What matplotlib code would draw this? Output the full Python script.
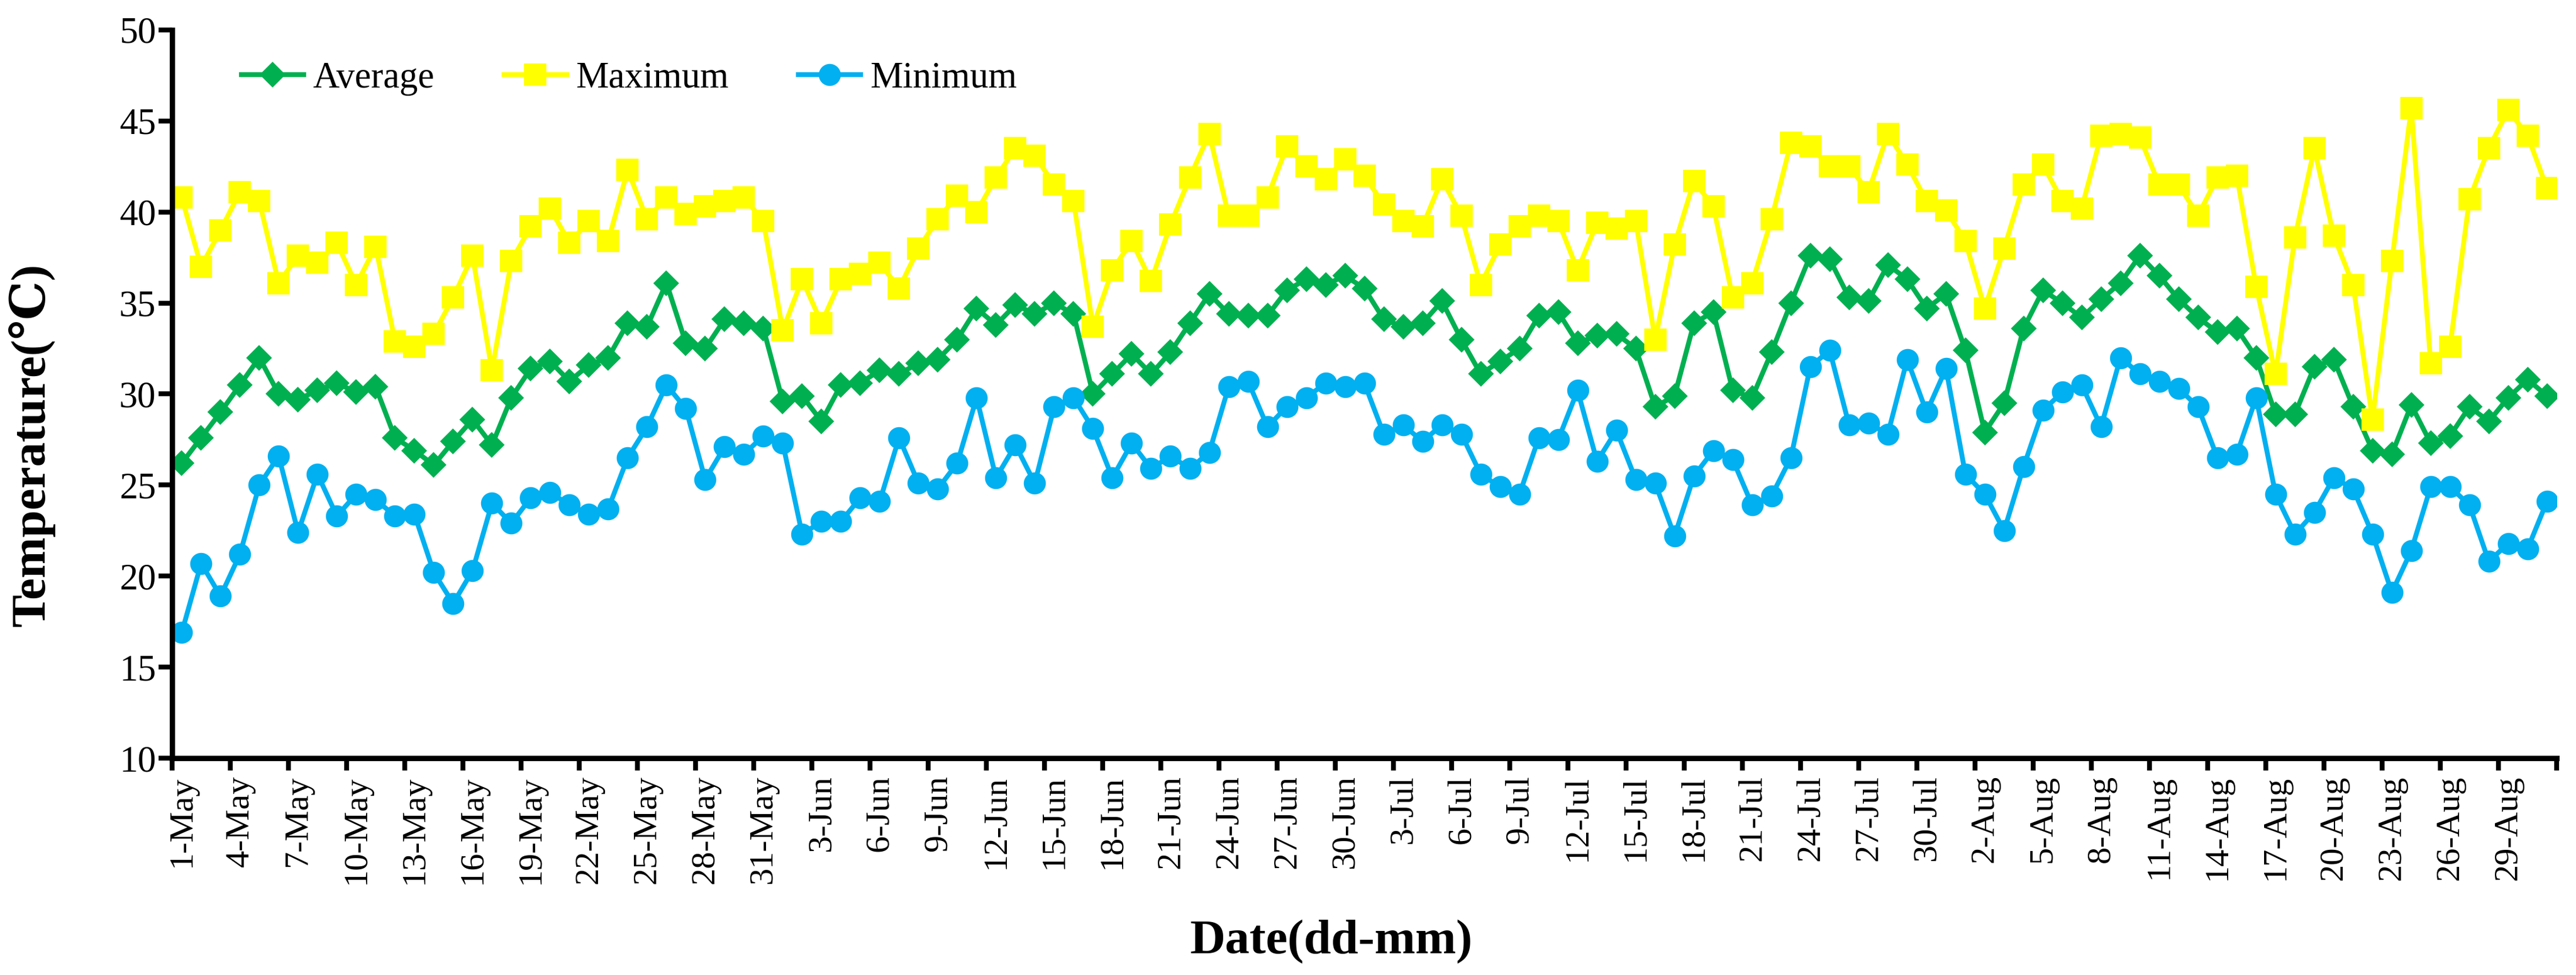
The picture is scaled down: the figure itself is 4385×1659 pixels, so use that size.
import pandas as pd
import matplotlib
matplotlib.use("Agg")
import matplotlib.pyplot as plt
from matplotlib.ticker import FixedLocator

plt.rcParams["font.family"] = ["Liberation Serif", "DejaVu Serif"]

# daily dates 1-May .. 31-Aug
dates = pd.date_range("2021-05-01", "2021-08-31", freq="D")
date_labels = [f"{d.day}-{d.strftime('%b')}" for d in dates]

average = [
    26.2, 27.6, 29.0, 30.5, 32.0, 30.0, 29.7, 30.2, 30.6, 30.1, 30.4, 27.6, 26.9, 26.1, 27.4, 28.6,
    27.2, 29.8, 31.4, 31.8, 30.7, 31.6, 32.0, 33.9, 33.7, 36.1, 32.8, 32.5, 34.1, 33.9, 33.6, 29.6,
    29.9, 28.5, 30.5, 30.6, 31.3,
    31.1, 31.7, 31.9, 33.0, 34.7, 33.8, 34.9, 34.4, 35.0, 34.4, 30.0, 31.1, 32.2, 31.1, 32.3, 33.9,
    35.5, 34.4, 34.3, 34.3, 35.7,
    36.3, 36.0, 36.5, 35.8, 34.1, 33.7, 33.9, 35.1, 33.0, 31.1, 31.8, 32.5, 34.3, 34.5, 32.8, 33.2,
    33.3, 32.5, 29.3, 29.9, 33.9,
    34.5, 30.2, 29.8, 32.3, 35.0, 37.6, 37.4, 35.3, 35.1, 37.1, 36.3, 34.7, 35.5, 32.4, 27.9, 29.5,
    33.6, 35.7, 35.0, 34.2, 35.2,
    36.1, 37.6, 36.5, 35.2, 34.2, 33.4, 33.6, 32.0, 28.9, 28.9, 31.5, 31.9, 29.3, 26.9, 26.7, 29.4,
    27.3, 27.7, 29.3, 28.5, 29.8, 30.8, 29.9,
]

maximum = [
    40.8, 37.0, 39.0, 41.1, 40.6, 36.1, 37.6, 37.2, 38.3, 36.0, 38.1, 32.9, 32.6, 33.3, 35.3, 37.6,
    31.3, 37.3, 39.2, 40.2, 38.3, 39.5, 38.4, 42.3, 39.6, 40.8, 39.9, 40.3, 40.6, 40.8, 39.5, 33.5,
    36.3, 33.9, 36.3, 36.6, 37.2,
    35.8, 38.0, 39.6, 40.9, 40.0, 41.9, 43.5, 43.1, 41.5, 40.6, 33.7, 36.8, 38.4, 36.2, 39.3, 41.9,
    44.3, 39.8, 39.8, 40.8, 43.6,
    42.5, 41.8, 42.9, 42.0, 40.4, 39.5, 39.2, 41.8, 39.8, 36.0, 38.2, 39.2, 39.8, 39.5, 36.8, 39.4,
    39.1, 39.5, 33.0, 38.2, 41.7,
    40.3, 35.3, 36.1, 39.6, 43.8, 43.6, 42.5, 42.5, 41.1, 44.3, 42.6, 40.6, 40.1, 38.4, 34.7, 38.0,
    41.5, 42.6, 40.6, 40.2, 44.2,
    44.3, 44.1, 41.5, 41.5, 39.8, 41.9, 42.0, 35.9, 31.1, 38.6, 43.5, 38.7, 36.0, 28.6, 37.3, 45.7,
    31.7, 32.6, 40.7, 43.5, 45.6, 44.2, 41.3,
]

minimum = [
    16.9, 20.7, 18.9, 21.2, 25.0, 26.6, 22.4, 25.6, 23.3, 24.5, 24.2, 23.3, 23.4, 20.2, 18.5, 20.3,
    24.0, 22.9, 24.3, 24.6, 23.9, 23.4, 23.7, 26.5, 28.2, 30.5, 29.2, 25.3, 27.1, 26.7, 27.7, 27.3,
    22.3, 23.0, 23.0, 24.3, 24.1,
    27.6, 25.1, 24.8, 26.2, 29.8, 25.4, 27.2, 25.1, 29.3, 29.8, 28.1, 25.4, 27.3, 25.9, 26.6, 25.9,
    26.8, 30.4, 30.7, 28.2, 29.3,
    29.8, 30.6, 30.4, 30.6, 27.8, 28.3, 27.4, 28.3, 27.8, 25.6, 24.9, 24.5, 27.6, 27.5, 30.2, 26.3,
    28.0, 25.3, 25.1, 22.2, 25.5,
    26.9, 26.4, 23.9, 24.4, 26.5, 31.5, 32.4, 28.3, 28.4, 27.8, 31.9, 29.0, 31.4, 25.6, 24.5, 22.5,
    26.0, 29.1, 30.1, 30.5, 28.2,
    32.0, 31.1, 30.7, 30.3, 29.3, 26.5, 26.7, 29.8, 24.5, 22.3, 23.5, 25.4, 24.8, 22.3, 19.1, 21.4,
    24.9, 24.9, 23.9, 20.8, 21.8, 21.5, 24.1,
]

x = list(range(len(dates)))

fig = plt.figure(figsize=(4385 / 300, 1659 / 300), dpi=300)
ax = fig.add_axes([0.0668, 0.2224, 0.9257, 0.7469])

ax.plot(x, average, color="#00B050", linewidth=2.0, marker="D", markersize=6.5, label="Average")
ax.plot(x, maximum, color="#FFFF00", linewidth=2.0, marker="s", markersize=8, label="Maximum")
ax.plot(x, minimum, color="#00B0F0", linewidth=2.0, marker="o", markersize=8, label="Minimum")

ax.set_xlim(-0.5, len(x) - 0.5)
ax.set_ylim(10, 50)
ax.set_yticks(range(10, 51, 5))

# labels every 3 days, tick marks between categories
ax.set_xticks(x[::3])
ax.set_xticklabels(date_labels[::3], rotation=90, fontsize=14)
ax.xaxis.set_minor_locator(FixedLocator([i - 0.5 for i in range(0, len(x) + 1, 3)]))
ax.tick_params(axis="x", which="major", length=0, pad=7)
ax.tick_params(axis="x", which="minor", length=5, width=2, direction="out")
ax.tick_params(axis="y", length=5.5, width=2, direction="out", labelsize=15, pad=1)

for side in ["top", "right"]:
    ax.spines[side].set_visible(False)
for side in ["left", "bottom"]:
    ax.spines[side].set_linewidth(2.2)

ax.set_ylabel("Temperature(℃)", fontsize=20, fontweight="bold")
ax.yaxis.set_label_coords(-0.049, 0.43)
ax.set_xlabel("Date(dd-mm)", fontsize=20, fontweight="bold")
ax.xaxis.set_label_coords(0.486, -0.222)

ax.legend(loc="center left", bbox_to_anchor=(0.029, 0.933), ncol=3, frameon=False,
          fontsize=15, handlelength=1.7, handletextpad=0.25, columnspacing=1.9,
          borderpad=0, borderaxespad=0)

fig.savefig("out.png", dpi=300)
plt.close()
